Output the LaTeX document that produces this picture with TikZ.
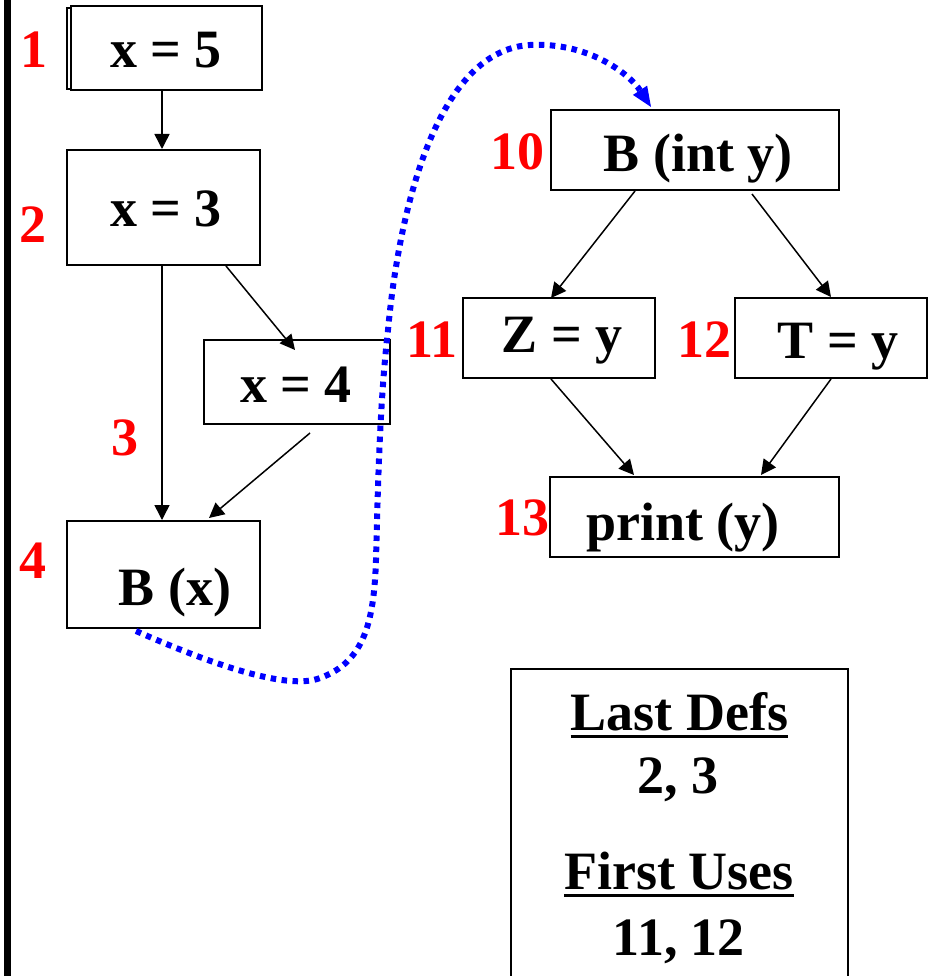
\documentclass[tikz,border=0pt]{standalone}
\usepackage{fontspec}
\setmainfont{Liberation Serif}
\usetikzlibrary{arrows.meta,calc}
\definecolor{pblue}{RGB}{0,0,255}
\definecolor{pred}{RGB}{255,0,0}
\tikzset{
  box/.style={draw=black, line width=2pt, inner sep=0pt, fill=none},
  txt/.style={inner sep=0pt, anchor=base, font=\fontsize{54pt}{60pt}\selectfont\bfseries},
  num/.style={txt, text=pred},
  flow/.style={line width=1.5pt, -{Triangle[length=15pt,width=15pt]}},
  call/.style={pblue, line width=6pt, dash pattern=on 5.5pt off 5.5pt,
    -{Triangle[length=20pt,width=17pt,line width=0pt]}},
}
\begin{document}
\begin{tikzpicture}[x=1pt,y=-1pt]
\useasboundingbox (0,0) rectangle (933,976);
\fill[white] (0,0) rectangle (933,976);
% left bar
\fill[black] (4,0) rectangle (11,976);

% boxes
\node[box, minimum width=191pt, minimum height=84pt] (b1) at (166.5,48) {};
\draw[line width=1.5pt] (71,8) -- (67,8) -- (67,89) -- (71,89);
\node[box, minimum width=193pt, minimum height=115pt] (b2) at (163.5,207.5) {};
\node[box, minimum width=186pt, minimum height=84pt] (b3) at (297,382) {};
\node[box, minimum width=193pt, minimum height=107pt] (b4) at (163.5,574.5) {};
\node[box, minimum width=288pt, minimum height=80pt] (b10) at (695,150) {};
\node[box, minimum width=192pt, minimum height=80pt] (b11) at (559,338) {};
\node[box, minimum width=192pt, minimum height=80pt] (b12) at (831,338) {};
\node[box, minimum width=289pt, minimum height=80pt] (b13) at (694.5,517) {};

% box texts
\node[txt] (t1) at (166,68) {x = 5};
\node[txt] (t2) at (166,227) {x = 3};
\node[txt] (t3) at (296,402) {x = 4};
\node[txt] (t4) at (175,605) {B (x)};
\node[txt] (t10) at (698,172) {B (int y)};
\node[txt] (t11) at (562,352) {Z = y};
\node[txt] (t12) at (838,358) {T = y};
\node[txt] (t13) at (683,540) {print (y)};

% red labels
\node[num] (n1) at (34,68) {1};
\node[num] (n2) at (33,243) {2};
\node[num] (n3) at (125,455) {3};
\node[num] (n4) at (33,578) {4};
\node[num] (n10) at (517,170) {10};
\node[num] (n11) at (432,357) {11};
\node[num] (n12) at (704,357) {12};
\node[num] (n13) at (522,535) {13};

% flow arrows
\draw[flow] ($(b1.south west)+(92,0)$) -- ($(b2.north west)+(96,0)$);
\draw[flow] ($(b2.south west)+(160,0)$) -- ($(b3.north west)+(92,11)$);
\draw[flow] ($(b2.south west)+(96,0)$) -- ($(b4.north west)+(96,0)$);
\draw[flow] ($(b3.south west)+(107,8)$) -- ($(b4.north west)+(143,-2)$);
\draw[flow] ($(b10.south west)+(85,0)$) -- ($(b11.north west)+(89,1)$);
\draw[flow] ($(b10.south west)+(202,3)$) -- ($(b12.north west)+(97,0)$);
\draw[flow] ($(b11.south west)+(89,0)$) -- ($(b13.north west)+(85,-1)$);
\draw[flow] ($(b12.south west)+(97,0)$) -- ($(b13.north west)+(212,-1)$);

% call edge
\coordinate (cs) at ($(b4.south west)+(70,2)$);
\coordinate (ce) at ($(b10.north west)+(101,-2)$);
\draw[call] (cs) .. controls (220,668) and (290,690) .. (320,678)
  .. controls (365,662) and (374,620) .. (376,560)
  .. controls (378,480) and (380,400) .. (388,330)
  .. controls (400,200) and (440,50) .. (530,45)
  .. controls (590,42) and (630,75) .. (ce);

% legend box
\draw[line width=2pt] (511,995) -- (511,669) -- (848,669) -- (848,995);
\node[txt] (ld) at (679.5,730) {Last Defs};
\draw[line width=3pt] ($(ld.base west)+(0,6)$) -- ($(ld.base east)+(0,6)$);
\node[txt] (lv) at (678,793) {2, 3};
\node[txt] (fu) at (679,889) {First Uses};
\draw[line width=3pt] ($(fu.base west)+(0,6)$) -- ($(fu.base east)+(0,6)$);
\node[txt] (fv) at (679,955) {11, 12};
\end{tikzpicture}
\end{document}
